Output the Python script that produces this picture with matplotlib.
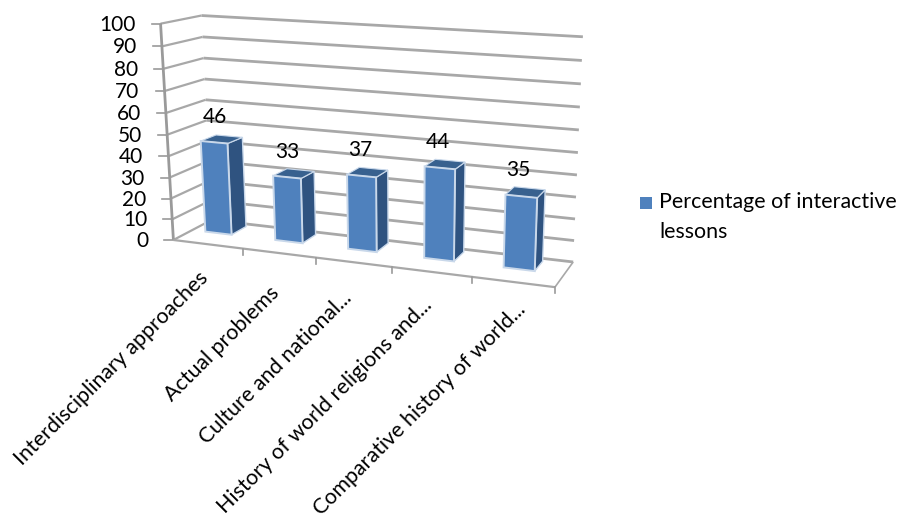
import numpy as np
import matplotlib
matplotlib.use("Agg")
import matplotlib.pyplot as plt
from matplotlib.patches import Polygon, Rectangle

plt.rcParams['font.family'] = ['Lato', 'DejaVu Sans']

categories = [
    "Interdisciplinary approaches",
    "Actual problems",
    "Culture and national...",
    "History of world religions and...",
    "Comparative history of world...",
]
values = [46, 33, 37, 44, 35]
y_ticks = [0, 10, 20, 30, 40, 50, 60, 70, 80, 90, 100]
series_name = "Percentage of interactive\nlessons"

FRONT = '#4f81bd'
SIDE = '#2f5380'
TOP = '#38618f'
EDGE = '#c9d8ea'
GRID = '#a8a8a8'
AXIS = '#9a9a9a'

# box corners seen in the picture: (category pos, depth, value) -> pixel
CORNERS = [
    ((0, 0, 0), (172, 238)),
    ((0, 0, 100), (162, 24)),
    ((0, 1, 0), (213, 222)),
    ((0, 1, 100), (200, 15)),
    ((5, 0, 0), (555, 289)),
    ((5, 1, 0), (573, 260)),
    ((5, 1, 100), (583, 37)),
]

# where each rotated category label ends
LABEL_ANCHORS = [(198, 268), (269, 283), (342, 288), (422, 295), (515, 299)]


def fit_projection(corners):
    rows = []
    rhs = []
    for (x, y, z), (px, py) in corners:
        rows.append([x, y, z, 1, 0, 0, 0, 0, -px * x, -px * y, -px * z])
        rhs.append(px)
        rows.append([0, 0, 0, 0, x, y, z, 1, -py * x, -py * y, -py * z])
        rhs.append(py)
    sol = np.linalg.lstsq(np.array(rows, float), np.array(rhs, float), rcond=None)[0]
    return np.append(sol, 1).reshape(3, 4)


P = fit_projection(CORNERS)


def project(x, y, z):
    u = P @ np.array([x, y, z, 1.0])
    return u[0] / u[2], u[1] / u[2]


fig = plt.figure(figsize=(8.97, 5.17), dpi=100)
ax = fig.add_axes([0, 0, 1, 1])
ax.set_xlim(0, 897)
ax.set_ylim(517, 0)
ax.axis('off')

n = len(categories)


def line3d(a, b, **kw):
    pa, pb = project(*a), project(*b)
    ax.plot([pa[0], pb[0]], [pa[1], pb[1]], solid_capstyle='butt', **kw)


# walls
for v in y_ticks:
    line3d((0, 0, v), (0, 1, v), color=GRID, lw=1.6, zorder=1)
    line3d((0, 1, v), (n, 1, v), color=GRID, lw=2.0, zorder=1)
    px, py = project(0, 0, v)
    ax.plot([px - 9, px], [py, py], color=AXIS, lw=1.2, zorder=1)
    ax.text(px - 25, py + 1, str(v), ha='right', va='center', fontsize=15, color='black')

# floor and axis
line3d((0, 0, 0), (0, 0, 100), color=AXIS, lw=2.0, zorder=2)
line3d((0, 0, 0), (n, 0, 0), color=GRID, lw=1.6, zorder=2)
line3d((n, 0, 0), (n, 1, 0), color=GRID, lw=1.2, zorder=2)
for i in range(1, n + 1):
    px, py = project(i, 0, 0)
    ax.plot([px, px], [py, py + 6], color=AXIS, lw=1.2, zorder=2)

# bars
half_w = 0.19
d0, d1 = 0.28, 0.68
base = 2.5
for i, v in enumerate(values):
    x0, x1 = i + 0.5 - half_w, i + 0.5 + half_w
    front = [project(x0, d0, base), project(x1, d0, base), project(x1, d0, v), project(x0, d0, v)]
    side = [project(x1, d0, base), project(x1, d1, base), project(x1, d1, v), project(x1, d0, v)]
    top = [project(x0, d0, v), project(x1, d0, v), project(x1, d1, v), project(x0, d1, v)]
    ax.add_patch(Polygon(side, closed=True, facecolor=SIDE, edgecolor=EDGE, lw=1.0, zorder=3))
    ax.add_patch(Polygon(top, closed=True, facecolor=TOP, edgecolor=EDGE, lw=0.8, zorder=3))
    ax.add_patch(Polygon(front, closed=True, facecolor=FRONT, edgecolor=EDGE, lw=1.4, zorder=4))
    px, py = project(i + 0.5, (d0 + d1) / 2, v)
    ax.text(px - 7, py - 22, str(v), ha='center', va='center', fontsize=15, color='black', zorder=5)

    lx, ly = LABEL_ANCHORS[i]
    ax.text(lx, ly, categories[i], rotation=45, ha='right', va='top',
            rotation_mode='anchor', fontsize=15.4, color='black')

# legend
ax.add_patch(Rectangle((640, 197), 12, 12, facecolor=FRONT, edgecolor='none'))
ax.text(659, 217, series_name, ha='left', va='center', fontsize=15.4, color='black', linespacing=1.6)

fig.savefig("out.png", dpi=100)
